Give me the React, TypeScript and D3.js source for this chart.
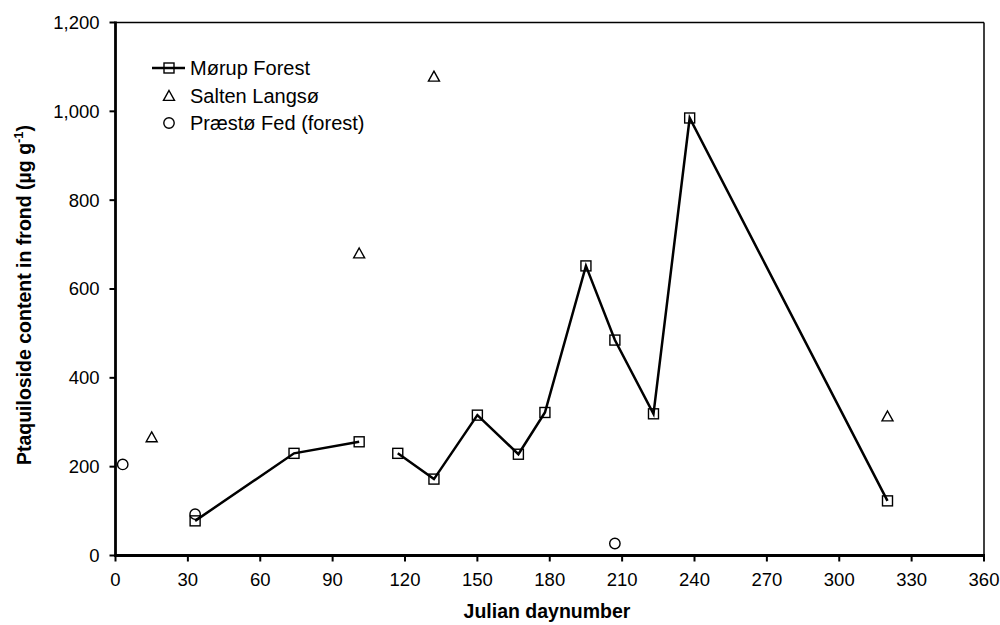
import React from "react";
import * as d3 from "d3";

// Mørup Forest series (two sampling runs, gap between day 101 and 117)
const morupDays1 = [33, 74, 101];
const morupValues1 = [78, 230, 256];
const morupDays2 = [117, 132, 150, 167, 178, 195, 207, 223, 238, 320];
const morupValues2 = [230, 172, 316, 228, 322, 652, 485, 319, 985, 123];

// Salten Langsø samples
const saltenDays = [15, 101, 132, 320];
const saltenValues = [266, 680, 1078, 313];

// Præstø Fed (forest) samples
const praestoDays = [3, 33, 207];
const praestoValues = [205, 93, 27];

const xTicks = [0, 30, 60, 90, 120, 150, 180, 210, 240, 270, 300, 330, 360];
const yTicks = [0, 200, 400, 600, 800, 1000, 1200];
const legendLabels = ["Mørup Forest", "Salten Langsø", "Præstø Fed (forest)"];

const W = 1000;
const H = 625;
const left = 115.5;
const right = 984;
const top = 22.5;
const bottom = 555.5;
const FONT = "Liberation Sans, Arial, sans-serif";

export default function App() {
  const x = d3.scaleLinear().domain([0, 360]).range([left, right]);
  const y = d3.scaleLinear().domain([0, 1200]).range([bottom, top]);
  const fmt = d3.format(",");

  const line = d3
    .line<[number, number]>()
    .x((d) => x(d[0]))
    .y((d) => y(d[1]));

  const seg1 = morupDays1.map((d, i) => [d, morupValues1[i]] as [number, number]);
  const seg2 = morupDays2.map((d, i) => [d, morupValues2[i]] as [number, number]);
  const allMorup = [...seg1, ...seg2];

  const sq = 10;
  const tri = (cx: number, cy: number) => {
    const s = 5.5;
    return `M${cx},${cy - s} L${cx + s},${cy + s * 0.8} L${cx - s},${cy + s * 0.8} Z`;
  };

  const legendX = 169;
  const legendRows = [68, 96, 123];

  return (
    <svg width={W} height={H} style={{ position: "absolute", left: 0, top: 0, background: "#fff" }}>
      {/* frame */}
      <line x1={left} y1={top} x2={right} y2={top} stroke="#000" strokeWidth={1.5} />
      <line x1={right} y1={top} x2={right} y2={bottom} stroke="#000" strokeWidth={1.5} />
      <line x1={left} y1={top - 1} x2={left} y2={bottom + 1.5} stroke="#000" strokeWidth={2.8} />
      <line x1={left - 1} y1={bottom} x2={right + 1} y2={bottom} stroke="#000" strokeWidth={2.8} />

      {/* y ticks */}
      {yTicks.map((t) => (
        <g key={"y" + t}>
          <line x1={left - 6} x2={left} y1={y(t)} y2={y(t)} stroke="#000" strokeWidth={2} />
          <text x={left - 16} y={y(t)} dy="0.35em" textAnchor="end" fontFamily={FONT} fontSize={18.5}>
            {fmt(t)}
          </text>
        </g>
      ))}

      {/* x ticks */}
      {xTicks.map((t) => (
        <g key={"x" + t}>
          <line x1={x(t)} x2={x(t)} y1={bottom} y2={bottom + 6} stroke="#000" strokeWidth={2} />
          <text x={x(t)} y={bottom + 30} textAnchor="middle" fontFamily={FONT} fontSize={18.5}>
            {t}
          </text>
        </g>
      ))}

      {/* axis titles */}
      <text x={547} y={618} textAnchor="middle" fontFamily={FONT} fontSize={19.5} fontWeight="bold">
        Julian daynumber
      </text>
      <text
        transform={`translate(31, ${(top + bottom) / 2 + 6}) rotate(-90)`}
        textAnchor="middle"
        fontFamily={FONT}
        fontSize={19.5}
        fontWeight="bold"
      >
        Ptaquiloside content in frond (µg g<tspan dy={-8} fontSize={13}>-1</tspan>
        <tspan dy={8}>)</tspan>
      </text>

      {/* Mørup Forest lines */}
      <path d={line(seg1) || ""} fill="none" stroke="#000" strokeWidth={2.5} />
      <path d={line(seg2) || ""} fill="none" stroke="#000" strokeWidth={2.5} />
      {allMorup.map(([d, v], i) => (
        <rect
          key={"m" + i}
          x={x(d) - sq / 2}
          y={y(v) - sq / 2}
          width={sq}
          height={sq}
          fill="none"
          stroke="#000"
          strokeWidth={1.4}
        />
      ))}

      {/* Salten Langsø */}
      {saltenDays.map((d, i) => (
        <path key={"s" + i} d={tri(x(d), y(saltenValues[i]))} fill="none" stroke="#000" strokeWidth={1.4} />
      ))}

      {/* Præstø Fed */}
      {praestoDays.map((d, i) => (
        <circle key={"p" + i} cx={x(d)} cy={y(praestoValues[i])} r={5.2} fill="none" stroke="#000" strokeWidth={1.4} />
      ))}

      {/* legend */}
      <line x1={152} x2={185} y1={legendRows[0]} y2={legendRows[0]} stroke="#000" strokeWidth={2.5} />
      <rect x={legendX - sq / 2} y={legendRows[0] - sq / 2} width={sq} height={sq} fill="none" stroke="#000" strokeWidth={1.4} />
      <path d={tri(legendX, legendRows[1])} fill="none" stroke="#000" strokeWidth={1.4} />
      <circle cx={legendX} cy={legendRows[2]} r={5.2} fill="none" stroke="#000" strokeWidth={1.4} />
      {legendLabels.map((s, i) => (
        <text key={s} x={190} y={legendRows[i]} dy="0.35em" fontFamily={FONT} fontSize={20}>
          {s}
        </text>
      ))}
    </svg>
  );
}
